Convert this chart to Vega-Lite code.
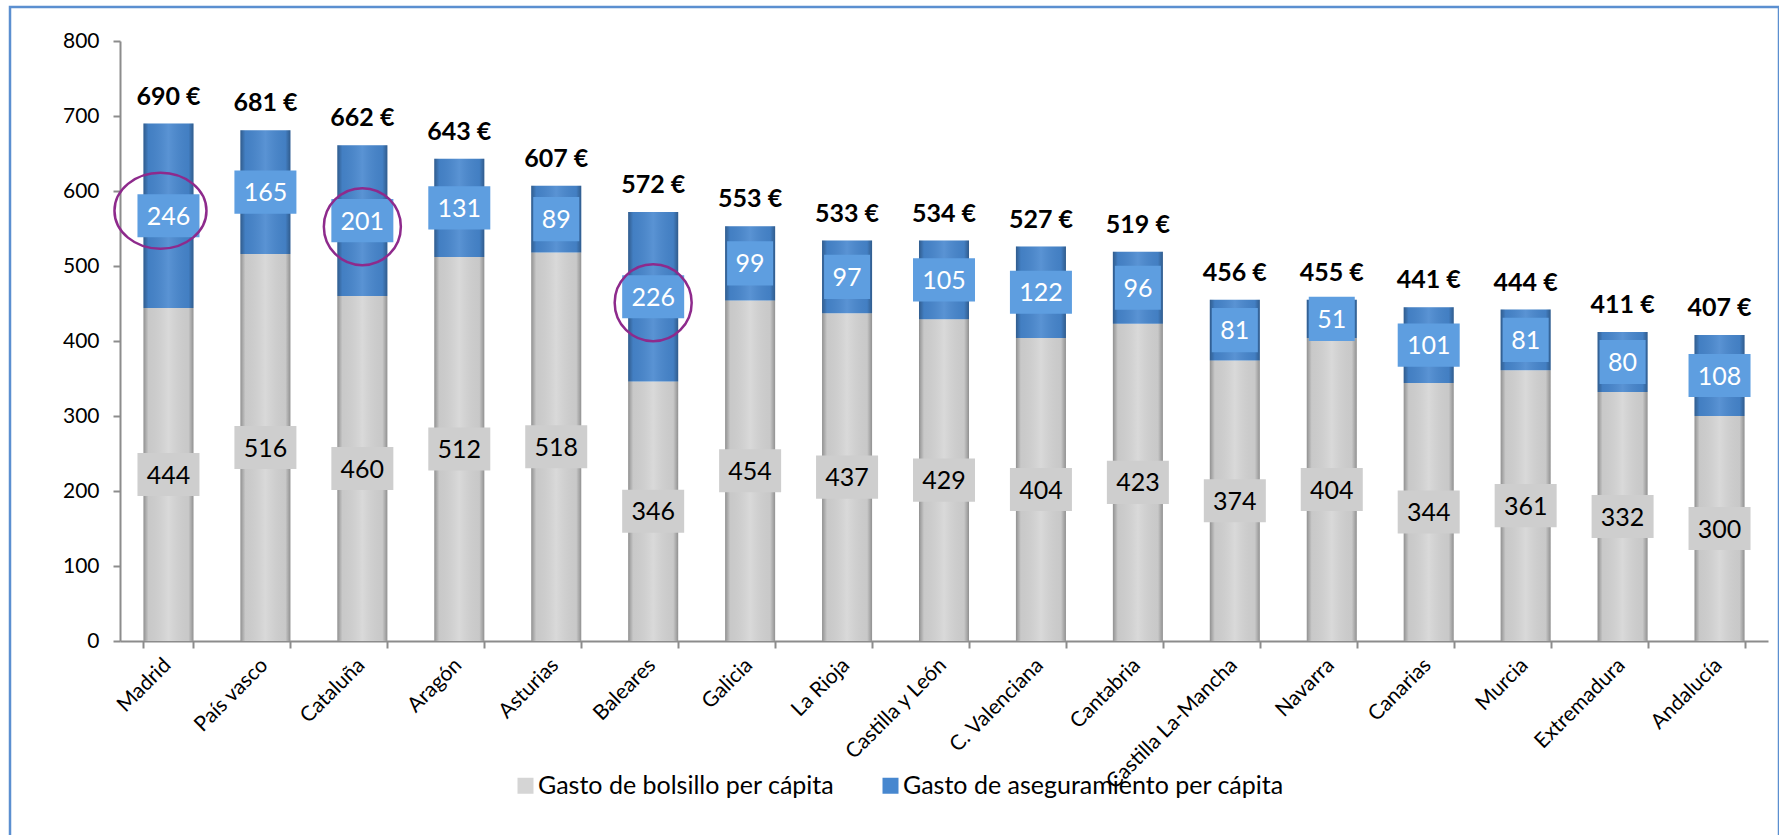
{
  "$schema": "https://vega.github.io/schema/vega-lite/v6.json",
  "width": 1769,
  "height": 840,
  "autosize": {"type": "none"},
  "padding": {"left": 10, "top": 7, "right": 0, "bottom": 0},
  "background": "white",
  "config": {
    "font": "Lato",
    "view": {"stroke": "#5b8fd0", "strokeWidth": 2.5, "fill": "white"}
  },
  "data": {
    "values": [
      {"region": "Madrid", "bolsillo": 444, "aseguramiento": 246, "total": "690 €"},
      {"region": "País vasco", "bolsillo": 516, "aseguramiento": 165, "total": "681 €"},
      {"region": "Cataluña", "bolsillo": 460, "aseguramiento": 201, "total": "662 €"},
      {"region": "Aragón", "bolsillo": 512, "aseguramiento": 131, "total": "643 €"},
      {"region": "Asturias", "bolsillo": 518, "aseguramiento": 89, "total": "607 €"},
      {"region": "Baleares", "bolsillo": 346, "aseguramiento": 226, "total": "572 €"},
      {"region": "Galicia", "bolsillo": 454, "aseguramiento": 99, "total": "553 €"},
      {"region": "La Rioja", "bolsillo": 437, "aseguramiento": 97, "total": "533 €"},
      {"region": "Castilla y León", "bolsillo": 429, "aseguramiento": 105, "total": "534 €"},
      {"region": "C. Valenciana", "bolsillo": 404, "aseguramiento": 122, "total": "527 €"},
      {"region": "Cantabria", "bolsillo": 423, "aseguramiento": 96, "total": "519 €"},
      {"region": "Castilla La-Mancha", "bolsillo": 374, "aseguramiento": 81, "total": "456 €"},
      {"region": "Navarra", "bolsillo": 404, "aseguramiento": 51, "total": "455 €"},
      {"region": "Canarias", "bolsillo": 344, "aseguramiento": 101, "total": "441 €"},
      {"region": "Murcia", "bolsillo": 361, "aseguramiento": 81, "total": "444 €"},
      {"region": "Extremadura", "bolsillo": 332, "aseguramiento": 80, "total": "411 €"},
      {"region": "Andalucía", "bolsillo": 300, "aseguramiento": 108, "total": "407 €"}
    ]
  },
  "transform": [
    {"fold": ["bolsillo", "aseguramiento"], "as": ["serie", "valor"]},
    {"stack": "valor", "groupby": ["region"], "sort": [{"field": "serie", "order": "descending"}], "as": ["v0", "v1"]}
  ],
  "encoding": {
    "x": {
      "field": "region",
      "type": "nominal",
      "sort": ["Madrid", "País vasco", "Cataluña", "Aragón", "Asturias", "Baleares", "Galicia", "La Rioja", "Castilla y León", "C. Valenciana", "Cantabria", "Castilla La-Mancha", "Navarra", "Canarias", "Murcia", "Extremadura", "Andalucía"],
      "scale": {"range": [110, 1758], "paddingInner": 0.484, "paddingOuter": 0.242},
      "axis": {
        "orient": "bottom",
        "offset": -206,
        "title": null,
        "tickBand": "extent",
        "tickSize": 7,
        "tickColor": "#8c8c8c",
        "tickWidth": 2,
        "domainColor": "#8c8c8c",
        "domainWidth": 2,
        "labelAngle": -45,
        "labelAlign": "right",
        "labelBaseline": "top",
        "labelPadding": 6,
        "labelOffset": -9,
        "labelFontSize": 21,
        "labelFont": "Lato",
        "labelColor": "#000000",
        "labelOverlap": false,
        "labelBound": false,
        "grid": false
      }
    }
  },
  "layer": [
    {
      "mark": {"type": "bar"},
      "encoding": {
        "y": {
          "field": "v0",
          "type": "quantitative",
          "scale": {"domain": [0, 800], "range": [634, 34], "nice": false},
          "axis": {
            "orient": "left",
            "offset": -110,
            "title": null,
            "values": [0, 100, 200, 300, 400, 500, 600, 700, 800],
            "tickSize": 7,
            "tickColor": "#8c8c8c",
            "tickWidth": 2,
            "domainColor": "#8c8c8c",
            "domainWidth": 2,
            "labelFontSize": 21,
            "labelFont": "Lato",
            "labelColor": "#000000",
            "labelPadding": 14,
            "grid": false
          }
        },
        "y2": {"field": "v1"},
        "color": {
          "field": "serie",
          "type": "nominal",
          "scale": {"domain": ["bolsillo", "aseguramiento"], "range": ["#d5d5d5", "#4787cf"]},
          "legend": {
            "orient": "none",
            "legendX": 503,
            "legendY": 766,
            "direction": "horizontal",
            "title": null,
            "symbolType": "square",
            "symbolSize": 256,
            "symbolStrokeWidth": 0,
            "symbolOpacity": 1,
            "labelFontSize": 25,
            "labelFont": "Lato",
            "labelColor": "#000000",
            "labelOffset": 0,
            "columnPadding": 43,
            "labelLimit": 0,
            "labelExpr": "datum.value == 'bolsillo' ? 'Gasto de bolsillo per cápita' : 'Gasto de aseguramiento per cápita'"
          }
        }
      }
    },
    {
      "mark": {
        "type": "bar",
        "fill": {
          "gradient": "linear",
          "x1": 0, "x2": 1, "y1": 0, "y2": 0,
          "stops": [
            {"offset": 0, "color": "rgba(0,0,0,0.32)"},
            {"offset": 0.1, "color": "rgba(0,0,0,0.06)"},
            {"offset": 0.5, "color": "rgba(255,255,255,0.10)"},
            {"offset": 0.9, "color": "rgba(0,0,0,0.06)"},
            {"offset": 1, "color": "rgba(0,0,0,0.32)"}
          ]
        }
      },
      "encoding": {
        "y": {"field": "v0", "type": "quantitative"},
        "y2": {"field": "v1"}
      }
    },
    {
      "transform": [
        {"fold": ["v0", "v1"], "as": ["extremo", "pos"]},
        {"aggregate": [{"op": "mean", "field": "pos", "as": "medio"}], "groupby": ["region", "serie", "valor"]}
      ],
      "encoding": {
        "y": {"field": "medio", "type": "quantitative"}
      },
      "layer": [
        {
          "transform": [{"filter": "datum.serie == 'bolsillo'"}],
          "mark": {"type": "point", "shape": "M-1,-0.694L1,-0.694L1,0.694L-1,0.694Z", "size": 3844, "filled": true, "color": "#cecece", "opacity": 1, "strokeWidth": 0}
        },
        {
          "transform": [{"filter": "datum.serie == 'aseguramiento' && datum.valor >= 100"}],
          "mark": {"type": "point", "shape": "M-1,-0.694L1,-0.694L1,0.694L-1,0.694Z", "size": 3844, "filled": true, "color": "#5e9ee0", "opacity": 1, "strokeWidth": 0}
        },
        {
          "transform": [{"filter": "datum.serie == 'aseguramiento' && datum.valor < 100"}],
          "mark": {"type": "point", "shape": "M-1,-0.957L1,-0.957L1,0.957L-1,0.957Z", "size": 2116, "filled": true, "color": "#5e9ee0", "opacity": 1, "strokeWidth": 0}
        },
        {
          "mark": {"type": "text", "fontSize": 25, "font": "Lato", "baseline": "middle", "align": "center", "dy": 1},
          "encoding": {
            "text": {"field": "valor", "type": "quantitative"},
            "color": {"condition": {"test": "datum.serie == 'aseguramiento'", "value": "#ffffff"}, "value": "#000000"}
          }
        },
        {
          "transform": [{"filter": "datum.serie == 'aseguramiento' && datum.region == 'Madrid'"}],
          "mark": {"type": "point", "shape": "M1,0C1,0.456,0.552,0.826,0,0.826C-0.552,0.826,-1,0.456,-1,0C-1,-0.456,-0.552,-0.826,0,-0.826C0.552,-0.826,1,-0.456,1,0Z", "size": 8464, "filled": false, "color": "#8e2a8c", "strokeWidth": 2.5, "opacity": 1, "xOffset": -8, "yOffset": -5}
        },
        {
          "transform": [{"filter": "datum.serie == 'aseguramiento' && (datum.region == 'Cataluña' || datum.region == 'Baleares')"}],
          "mark": {"type": "point", "shape": "circle", "size": 5929, "filled": false, "color": "#8e2a8c", "strokeWidth": 2.5, "opacity": 1, "yOffset": 6}
        }
      ]
    },
    {
      "transform": [{"filter": "datum.serie == 'aseguramiento'"}],
      "mark": {"type": "text", "fontSize": 25, "font": "Lato", "fontWeight": "bold", "baseline": "alphabetic", "align": "center", "dy": -19, "color": "#000000"},
      "encoding": {
        "y": {"field": "v1", "type": "quantitative"},
        "text": {"field": "total", "type": "nominal"}
      }
    }
  ]
}
